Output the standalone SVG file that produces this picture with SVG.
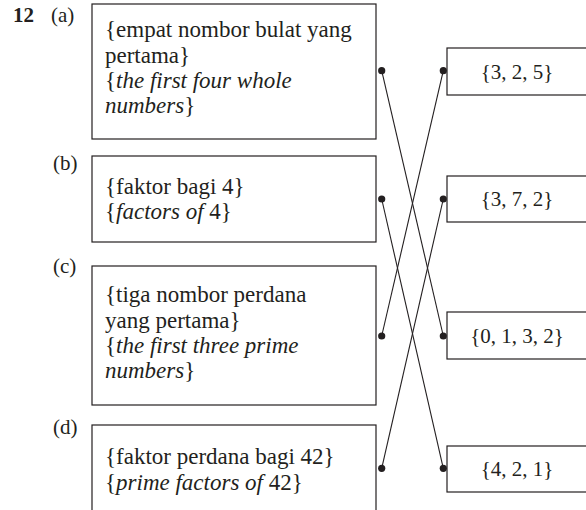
<svg xmlns="http://www.w3.org/2000/svg" width="586" height="510" viewBox="0 0 586 510">
<style>
text{font-family:"Liberation Serif","Times New Roman",serif;font-size:21px;fill:#231f20}
.t{font-size:23px}
.box{fill:#fff;stroke:#231f20;stroke-width:1.2}
.it{font-style:italic}
.r{text-anchor:middle}
.ln{stroke:#231f20;stroke-width:1.1;fill:none}
.dot{fill:#231f20}
</style>
<rect width="586" height="510" fill="#fff"/>
<text x="13" y="22" font-weight="bold">12</text>
<g id="a">
<text x="51" y="22">(a)</text>
<rect class="box" x="92" y="4" width="284" height="135"/>
<text class="t" x="105" y="37">{empat nombor bulat yang</text>
<text class="t" x="105" y="62.5">pertama}</text>
<text class="t" x="105" y="88">{<tspan class="it">the first four whole</tspan></text>
<text class="t" x="105" y="113"><tspan class="it">numbers</tspan>}</text>
</g>
<g id="b">
<text x="53" y="170">(b)</text>
<rect class="box" x="92" y="156" width="284" height="86"/>
<text class="t" x="105" y="193.5">{faktor bagi 4}</text>
<text class="t" x="105" y="219">{<tspan class="it">factors of</tspan> 4}</text>
</g>
<g id="c">
<text x="53" y="273">(c)</text>
<rect class="box" x="92" y="266" width="284" height="139"/>
<text class="t" x="105" y="302">{tiga nombor perdana</text>
<text class="t" x="105" y="327.5">yang pertama}</text>
<text class="t" x="105" y="353">{<tspan class="it">the first three prime</tspan></text>
<text class="t" x="105" y="378"><tspan class="it">numbers</tspan>}</text>
</g>
<g id="d">
<text x="53" y="434">(d)</text>
<rect class="box" x="92" y="425" width="284" height="100"/>
<text class="t" x="105" y="464">{faktor perdana bagi 42}</text>
<text class="t" x="105" y="490">{<tspan class="it">prime factors of</tspan> 42}</text>
</g>
<g id="r1">
<rect class="box" x="447" y="48" width="150" height="47"/>
<text class="r" x="517" y="78.5">{3, 2, 5}</text>
</g>
<g id="r2">
<rect class="box" x="447" y="176" width="150" height="46"/>
<text class="r" x="517" y="206">{3, 7, 2}</text>
</g>
<g id="r3">
<rect class="box" x="447" y="312" width="150" height="47"/>
<text class="r" x="517" y="342.5">{0, 1, 3, 2}</text>
</g>
<g id="r4">
<rect class="box" x="447" y="446" width="150" height="46"/>
<text class="r" x="517" y="475.5">{4, 2, 1}</text>
</g>
<g id="connectors">
<line class="ln" x1="381.7" y1="70.7" x2="443.3" y2="336"/>
<line class="ln" x1="381.7" y1="199" x2="443.3" y2="468.3"/>
<line class="ln" x1="381.7" y1="336" x2="443.3" y2="70.7"/>
<line class="ln" x1="381.7" y1="468.3" x2="443.3" y2="199"/>
<circle class="dot" cx="381.7" cy="70.7" r="3.6"/>
<circle class="dot" cx="381.7" cy="199" r="3.6"/>
<circle class="dot" cx="381.7" cy="336" r="3.6"/>
<circle class="dot" cx="381.7" cy="468.3" r="3.6"/>
<circle class="dot" cx="443.3" cy="70.7" r="3.6"/>
<circle class="dot" cx="443.3" cy="199" r="3.6"/>
<circle class="dot" cx="443.3" cy="336" r="3.6"/>
<circle class="dot" cx="443.3" cy="468.3" r="3.6"/>
</g>
</svg>
